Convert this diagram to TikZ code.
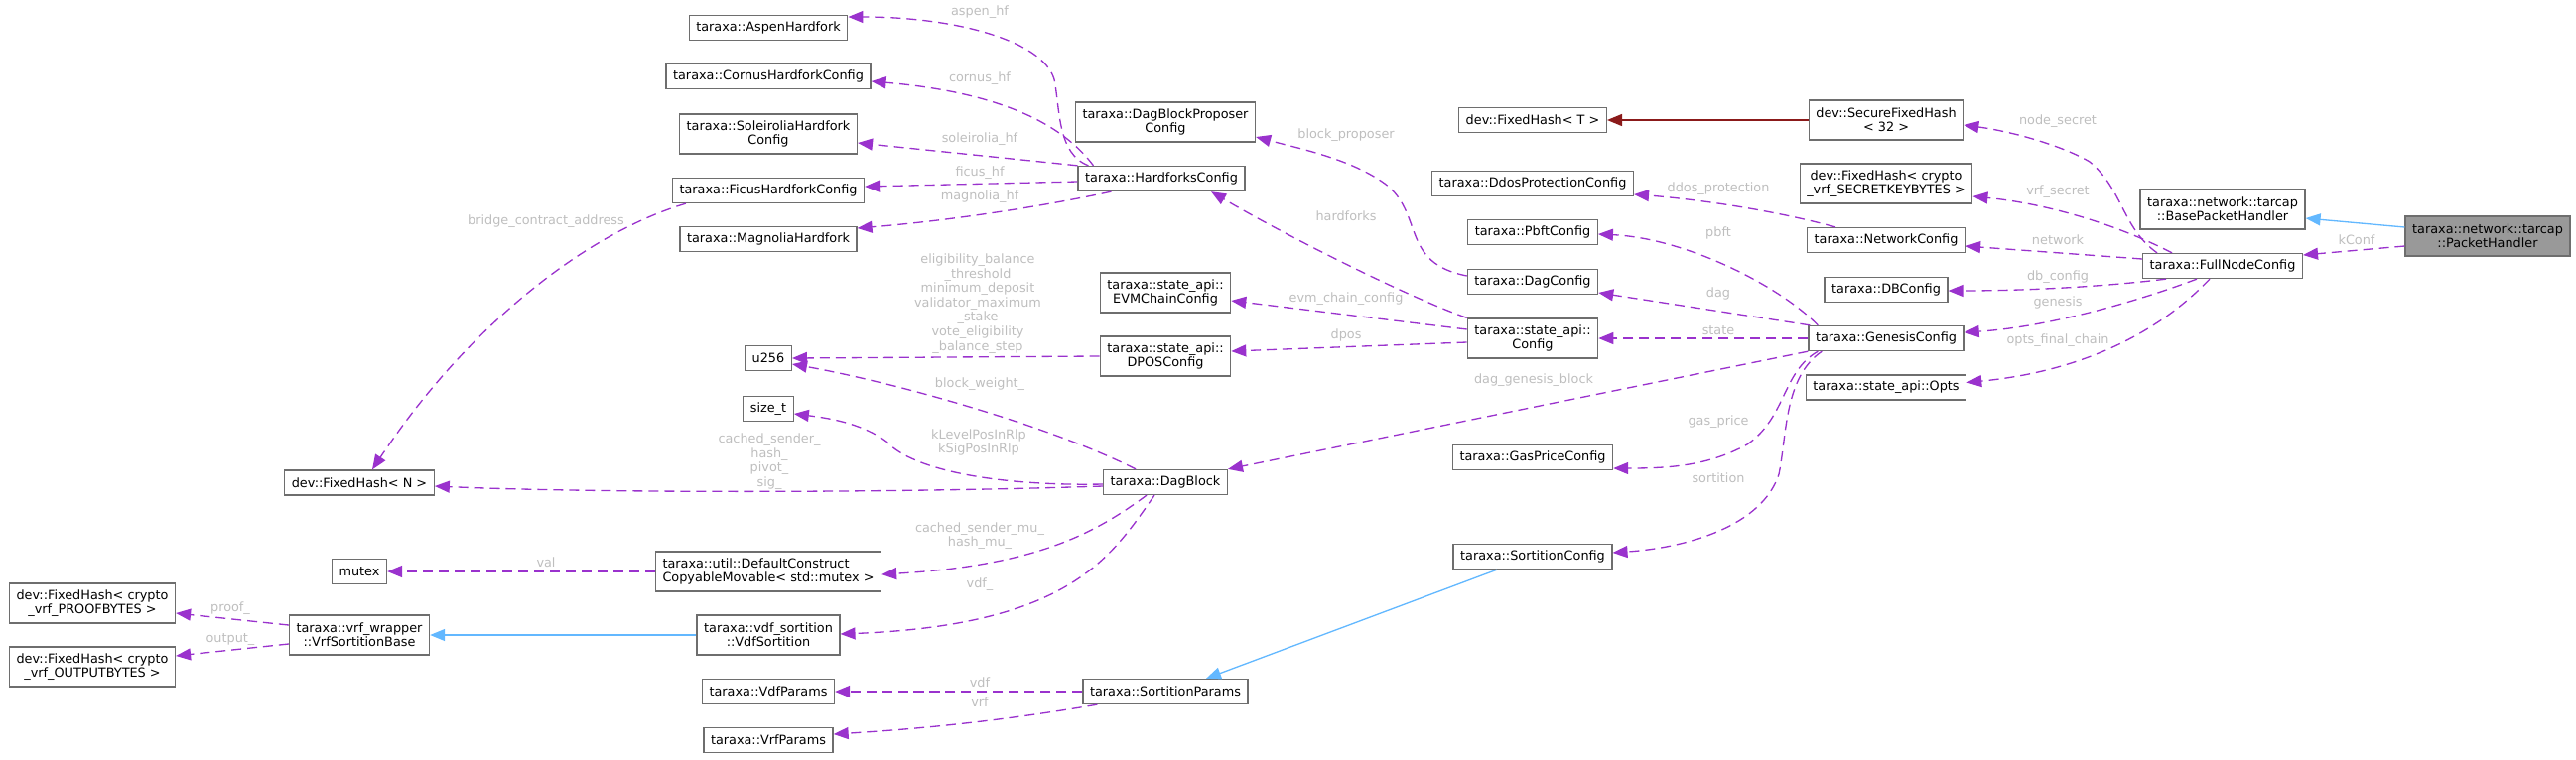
\documentclass[tikz,border=0pt]{standalone}
\usepackage{fontspec}
\setmainfont{DejaVu Sans}
\usepackage{xcolor}
\usepackage{tikz}
\usetikzlibrary{arrows.meta,calc}
\definecolor{memberline}{HTML}{9A32CD}
\definecolor{inhblue}{HTML}{63B8FF}
\definecolor{tmplred}{HTML}{8B1A1A}
\definecolor{boxgray}{HTML}{6E6E6E}
\definecolor{focusgray}{HTML}{999999}
\definecolor{labgray}{HTML}{BEBEBE}

\begin{document}
\begin{tikzpicture}[x=0.02cm,y=-0.02cm,
  cls/.style={draw=boxgray,line width=0.75pt,fill=white,inner xsep=4pt,inner ysep=1pt,
    minimum height=0.5cm,align=center,font=\fontsize{7.3}{8}\selectfont},
  cls2/.style={cls,minimum height=0.8cm},
  focus/.style={cls2,fill=focusgray},
  tip/.style={-{Triangle[length=0.3cm,width=0.24cm]}},
  member/.style={tip,draw=memberline,line width=0.75pt,dash pattern=on 5.7pt off 3.4pt},
  inherit/.style={tip,draw=inhblue,line width=0.75pt},
  tmpl/.style={tip,draw=tmplred,line width=0.75pt},
  elab/.style={text=labgray,inner sep=0pt,align=center,font=\fontsize{7.3}{8.3}\selectfont}]
\useasboundingbox (0,0) rectangle (2595,765);

% classes
\node[focus] (ph) at (2506,238) {taraxa::network::tarcap\\::PacketHandler};
\node[cls2] (bph) at (2239,211) {taraxa::network::tarcap\\::BasePacketHandler};
\node[cls] (fnc) at (2239,268) {taraxa::FullNodeConfig};
\node[cls2] (sfh) at (1900,121) {dev::SecureFixedHash\\< 32 >};
\node[cls2] (skb) at (1900,185) {dev::FixedHash< crypto\\\_vrf\_SECRETKEYBYTES >};
\node[cls] (netc) at (1900,242) {taraxa::NetworkConfig};
\node[cls] (dbc) at (1900,292) {taraxa::DBConfig};
\node[cls] (gen) at (1900,341) {taraxa::GenesisConfig};
\node[cls] (opts) at (1900,390.5) {taraxa::state\_api::Opts};
\node[cls] (fht) at (1544,121) {dev::FixedHash< T >};
\node[cls] (ddos) at (1544,185) {taraxa::DdosProtectionConfig};
\node[cls] (pbft) at (1544,234) {taraxa::PbftConfig};
\node[cls] (dagc) at (1544,284) {taraxa::DagConfig};
\node[cls2] (sac) at (1544,341) {taraxa::state\_api::\\Config};
\node[cls] (gpc) at (1544,461) {taraxa::GasPriceConfig};
\node[cls] (sortc) at (1544,561) {taraxa::SortitionConfig};
\node[cls2] (dbp) at (1174,123) {taraxa::DagBlockProposer\\Config};
\node[cls] (hfc) at (1170,180) {taraxa::HardforksConfig};
\node[cls2] (evm) at (1174,295) {taraxa::state\_api::\\EVMChainConfig};
\node[cls2] (dpos) at (1174,359) {taraxa::state\_api::\\DPOSConfig};
\node[cls] (dblk) at (1174,486) {taraxa::DagBlock};
\node[cls] (sparams) at (1174,697) {taraxa::SortitionParams};
\node[cls] (aspen) at (774,28) {taraxa::AspenHardfork};
\node[cls] (cornus) at (774,77) {taraxa::CornusHardforkConfig};
\node[cls2] (soleir) at (774,135) {taraxa::SoleiroliaHardfork\\Config};
\node[cls] (ficus) at (774,192) {taraxa::FicusHardforkConfig};
\node[cls] (magn) at (774,241) {taraxa::MagnoliaHardfork};
\node[cls] (u256) at (774,361) {u256};
\node[cls] (sizet) at (774,412) {size\_t};
\node[cls2,align=left] (dcm) at (774,576) {taraxa::util::DefaultConstruct\\CopyableMovable< std::mutex >};
\node[cls2] (vdfs) at (774,640) {taraxa::vdf\_sortition\\::VdfSortition};
\node[cls] (vdfp) at (774,697) {taraxa::VdfParams};
\node[cls] (vrfp) at (774,746) {taraxa::VrfParams};
\node[cls] (fhn) at (362,486.5) {dev::FixedHash< N >};
\node[cls] (mutex) at (362,576) {mutex};
\node[cls2] (vrfb) at (362,640) {taraxa::vrf\_wrapper\\::VrfSortitionBase};
\node[cls2] (proof) at (93,608) {dev::FixedHash< crypto\\\_vrf\_PROOFBYTES >};
\node[cls2] (outp) at (93,672) {dev::FixedHash< crypto\\\_vrf\_OUTPUTBYTES >};

% relations
\draw[inherit] ($(ph.west)+(0,-9)$) -- ($(bph.east)+(0,9)$);
\draw[member] ($(ph.west)+(0,10)$) -- ($(fnc.east)+(0,-11)$);
\draw[member] ($(fnc.north west)+(15,0)$) .. controls (2138,230) and (2138,190) .. (2105,163)
  .. controls (2080,148) and (2030,133) .. ($(sfh.east)+(0,5)$);
\draw[member] ($(fnc.north west)+(30,0)$) .. controls (2130,225) and (2060,205) .. ($(skb.east)+(0,13)$);
\draw[member] ($(fnc.west)+(0,-7)$) -- ($(netc.east)+(0,6)$);
\draw[member] ($(fnc.south west)+(24,0)$) .. controls (2110,290) and (2030,293) .. ($(dbc.east)+(0,1)$);
\draw[member] ($(fnc.south west)+(55,0)$) .. controls (2150,305) and (2060,330) .. ($(gen.east)+(0,-6)$);
\draw[member] ($(fnc.south west)+(68,0)$) .. controls (2170,340) and (2090,375) .. ($(opts.east)+(0,-5)$);
\draw[tmpl] (sfh.west) -- (fht.east);
\draw[member] ($(netc.north west)+(29,0)$) .. controls (1780,210) and (1700,200) .. ($(ddos.east)+(0,11)$);
\draw[member] ($(gen.north west)+(10,0)$) .. controls (1795,290) and (1700,240) .. ($(pbft.east)+(0,2)$);
\draw[member] ($(gen.north west)+(2,0)$) -- ($(dagc.east)+(0,11)$);
\draw[member] (gen.west) -- (sac.east);
\draw[member] (gen.south west) -- (dblk.north east);
\draw[member] ($(gen.south west)+(10,0)$) .. controls (1795,375) and (1800,420) .. (1760,448)
  .. controls (1720,470) and (1680,472) .. ($(gpc.east)+(0,11)$);
\draw[member] ($(gen.south west)+(14,0)$) .. controls (1797,380) and (1800,440) .. (1792,478)
  .. controls (1775,530) and (1700,552) .. ($(sortc.east)+(0,-4)$);
\draw[member] ($(dagc.west)+(0,-6)$) .. controls (1410,265) and (1435,215) .. (1395,185)
  .. controls (1360,160) and (1310,150) .. ($(dbp.east)+(0,15)$);
\draw[member] (sac.north west) .. controls (1420,300) and (1300,240) .. ($(hfc.south)+(50,0)$);
\draw[member] ($(sac.west)+(0,-9)$) -- ($(evm.east)+(0,8)$);
\draw[member] ($(sac.west)+(0,4)$) -- ($(dpos.east)+(0,-5)$);
\draw[member] ($(hfc.north west)+(11,0)$) .. controls (1065,155) and (1068,110) .. (1062,80)
  .. controls (1050,40) and (960,17) .. ($(aspen.east)+(0,-11)$);
\draw[member] ($(hfc.north west)+(16,0)$) .. controls (1070,125) and (1008,93) .. ($(cornus.east)+(0,5)$);
\draw[member] (hfc.north west) -- ($(soleir.east)+(0,9)$);
\draw[member] ($(hfc.west)+(0,3)$) -- ($(ficus.east)+(0,-4)$);
\draw[member] ($(hfc.south west)+(34,0)$) .. controls (1050,208) and (960,222) .. ($(magn.east)+(0,-11)$);
\draw[member] ($(ficus.south west)+(14,0)$) .. controls (590,235) and (470,330) .. ($(fhn.north)+(13,0)$);
\draw[member] (dpos.west) -- (u256.east);
\draw[member] ($(dblk.north)+(-30,0)$) .. controls (1060,430) and (900,385) .. ($(u256.east)+(0,6)$);
\draw[member] ($(dblk.west)+(0,2)$) .. controls (1010,490) and (920,475) .. (893,445)
  .. controls (870,428) and (840,422) .. ($(sizet.east)+(0,5)$);
\draw[member] ($(dblk.west)+(0,4)$) .. controls (900,497) and (600,497) .. ($(fhn.east)+(0,3.5)$);
\draw[member] ($(dblk.south)+(-19,0)$) .. controls (1100,540) and (1040,570) .. ($(dcm.east)+(0,3)$);
\draw[member] ($(dblk.south)+(-11,0)$) .. controls (1120,560) and (1080,630) .. ($(vdfs.east)+(0,-1)$);
\draw[member] (dcm.west) -- (mutex.east);
\draw[inherit] (vdfs.west) -- (vrfb.east);
\draw[member] ($(vrfb.west)+(0,-10)$) -- ($(proof.east)+(0,10)$);
\draw[member] ($(vrfb.west)+(0,9)$) -- ($(outp.east)+(0,-11)$);
\draw[inherit] ($(sortc.south)+(-36,0)$) -- ($(sparams.north)+(41,0)$);
\draw[member] (sparams.west) -- (vdfp.east);
\draw[member] ($(sparams.south west)+(15,0)$) .. controls (1000,728) and (920,735) .. ($(vrfp.east)+(0,-6)$);

% edge labels
\node[elab] (l-kconf) at (2374,242) {kConf};
\node[elab] (l-nsec) at (2073,122) {node\_secret};
\node[elab] (l-vsec) at (2073,193) {vrf\_secret};
\node[elab] (l-net) at (2073,242) {network};
\node[elab] (l-db) at (2073,279) {db\_config};
\node[elab] (l-gen) at (2073,305) {genesis};
\node[elab] (l-opts) at (2073,343) {opts\_final\_chain};
\node[elab] (l-bprop) at (1356,136) {block\_proposer};
\node[elab] (l-ddos) at (1731,190) {ddos\_protection};
\node[elab] (l-hf) at (1356,218) {hardforks};
\node[elab] (l-pbft) at (1731,235) {pbft};
\node[elab] (l-dag) at (1731,296) {dag};
\node[elab] (l-evm) at (1356,301) {evm\_chain\_config};
\node[elab] (l-state) at (1731,333) {state};
\node[elab] (l-dpos) at (1356,338) {dpos};
\node[elab] (l-dgb) at (1545,383) {dag\_genesis\_block};
\node[elab] (l-gas) at (1731,425) {gas\_price};
\node[elab] (l-sort) at (1731,482) {sortition};
\node[elab] (l-aspen) at (987,12) {aspen\_hf};
\node[elab] (l-cornus) at (987,79) {cornus\_hf};
\node[elab] (l-soleir) at (987,140) {soleirolia\_hf};
\node[elab] (l-ficus) at (987,174) {ficus\_hf};
\node[elab] (l-magn) at (987,198) {magnolia\_hf};
\node[elab] (l-u256) at (985,306) {eligibility\_balance\\\_threshold\\minimum\_deposit\\validator\_maximum\\\_stake\\vote\_eligibility\\\_balance\_step};
\node[elab] (l-bw) at (987,387) {block\_weight\_};
\node[elab] (l-rlp) at (986,446) {kLevelPosInRlp\\kSigPosInRlp};
\node[elab] (l-hash) at (775,465) {cached\_sender\_\\hash\_\\pivot\_\\sig\_};
\node[elab] (l-mu) at (987,540) {cached\_sender\_mu\_\\hash\_mu\_};
\node[elab] (l-vdfs) at (987,589) {vdf\_};
\node[elab] (l-vdf) at (987,688) {vdf};
\node[elab] (l-vrf) at (987,708) {vrf};
\node[elab] (l-bridge) at (550,223) {bridge\_contract\_address};
\node[elab] (l-val) at (550,567) {val};
\node[elab] (l-proof) at (232,613) {proof\_};
\node[elab] (l-out) at (232,644) {output\_};
\end{tikzpicture}
\end{document}
